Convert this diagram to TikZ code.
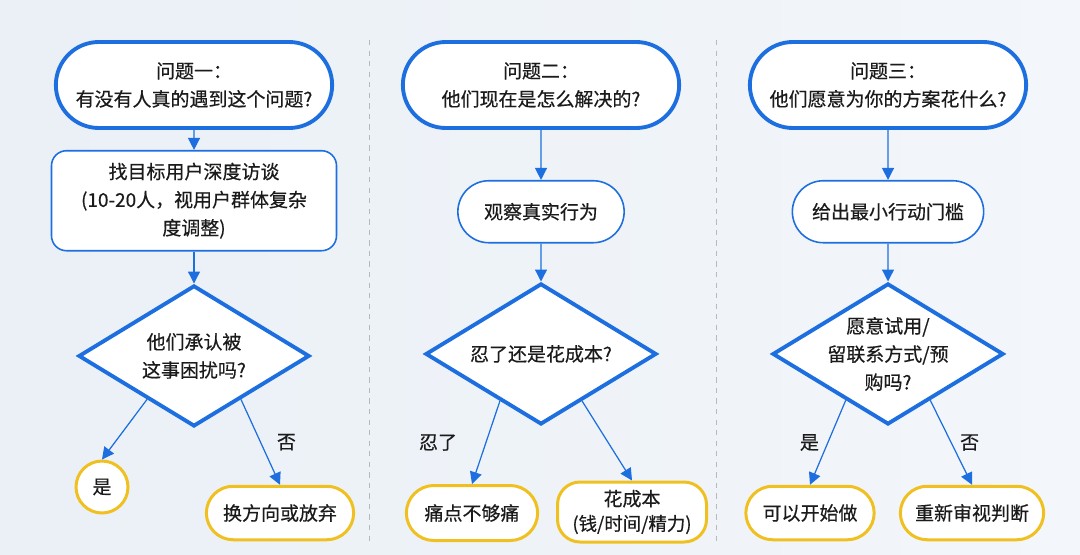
\documentclass[tikz,border=0pt]{standalone}
\usepackage{fontspec}
\setmainfont{Noto Sans CJK SC}[FakeBold=0.5]
\usepackage{xcolor}
\usetikzlibrary{shapes.misc,shapes.geometric,arrows.meta,positioning,calc}

\definecolor{flowblue}{HTML}{1D6FDF}
\definecolor{flowgold}{HTML}{F0C020}
\definecolor{inkdark}{HTML}{1B1B1B}
\definecolor{bgleft}{HTML}{EAF0F6}
\definecolor{bgright}{HTML}{F3F6FA}

\begin{document}
\begin{tikzpicture}[
    every node/.style={text=inkdark, font=\fontsize{10.8}{16}\selectfont},
    qbox/.style={rounded rectangle, draw=flowblue, line width=2.2pt, fill=white, minimum width=5.76cm, minimum height=1.72cm, align=center},
    stepbox/.style={draw=flowblue, line width=0.9pt, fill=white, align=center},
    decide/.style={diamond, aspect=1.64, draw=flowblue, line width=2.2pt, fill=white, align=center, inner sep=0pt, minimum width=4.62cm, minimum height=2.82cm},
    endbox/.style={rounded rectangle, draw=flowgold, line width=1.7pt, fill=white, minimum height=1.07cm, align=center},
    arrow/.style={-{Triangle[length=0.24cm,width=0.24cm]}, draw=flowblue, line width=0.7pt},
    sep/.style={draw=gray!55, dashed, line width=0.5pt},
]
    % background
    \shade[left color=bgleft, right color=bgright] (0,0) rectangle (21.6,-11.08);
    \useasboundingbox (0,0) rectangle (21.6,-11.08);
    \draw[sep] (7.38,-0.8) -- (7.38,-10.9);
    \draw[sep] (14.32,-0.8) -- (14.32,-10.9);

    % column 1
    \node[qbox] (q1) at (3.88,-1.70) {问题一：\\有没有人真的遇到这个问题?};
    \node[stepbox, rounded corners=0.3cm, minimum width=5.7cm, minimum height=2.0cm, below=0.4cm of q1] (interview) {找目标用户深度访谈\\(10-20人，视用户群体复杂\\度调整)};
    \node[decide, below=0.64cm of interview] (admit) {他们承认被\\这事困扰吗?};
    \node[endbox, minimum width=1.26cm, minimum height=1.04cm] (yes1) at (2.04,-9.74) {是};
    \node[endbox, minimum width=3.18cm] (giveup) at (5.6,-10.26) {换方向或放弃};

    % column 2
    \node[qbox] (q2) at (10.82,-1.70) {问题二：\\他们现在是怎么解决的?};
    \node[stepbox, rounded rectangle, minimum width=3.56cm, minimum height=1.24cm, below=1.0cm of q2] (observe) {观察真实行为};
    \node[decide, below=0.76cm of observe] (bear) {忍了还是花成本?};
    \node[endbox, minimum width=2.86cm, minimum height=1.1cm] (weak) at (9.44,-10.26) {痛点不够痛};
    \node[endbox, rounded rectangle=false, rectangle, rounded corners=0.45cm, minimum width=2.98cm, minimum height=1.2cm] (cost) at (12.64,-10.24) {花成本\\[-2pt]{\fontsize{10.5}{13}\selectfont(钱/时间/精力)}};

    % column 3
    \node[qbox] (q3) at (17.76,-1.70) {问题三：\\他们愿意为你的方案花什么?};
    \node[stepbox, rounded rectangle, minimum width=4.06cm, minimum height=1.24cm, below=1.0cm of q3] (threshold) {给出最小行动门槛};
    \node[decide, inner sep=-3pt, below=0.76cm of threshold] (pay) {愿意试用/\\留联系方式/预\\购吗?};
    \node[endbox, minimum width=2.8cm] (start) at (16.2,-10.26) {可以开始做};
    \node[endbox, minimum width=3.1cm] (review) at (19.44,-10.26) {重新审视判断};

    % connectors
    \draw[arrow] (q1) -- (interview);
    \draw[arrow] (interview) -- (admit);
    \draw[arrow] ($(admit.south)!0.4!(admit.west)$) -- (yes1.north);
    \draw[arrow] ($(admit.south)!0.4!(admit.east)$) -- node[right=0.2cm] {否} (giveup.north);

    \draw[arrow] (q2) -- (observe);
    \draw[arrow] (observe) -- (bear);
    \draw[arrow] ($(bear.south)!0.35!(bear.west)$) -- node[left=0.45cm] {忍了} (weak.north);
    \draw[arrow] ($(bear.south)!0.35!(bear.east)$) -- (cost.north);

    \draw[arrow] (q3) -- (threshold);
    \draw[arrow] (threshold) -- (pay);
    \draw[arrow] ($(pay.south)!0.36!(pay.west)$) -- node[left=0.05cm] {是} (start.north);
    \draw[arrow] ($(pay.south)!0.36!(pay.east)$) -- node[right=0.05cm] {否} (review.north);
\end{tikzpicture}
\end{document}
